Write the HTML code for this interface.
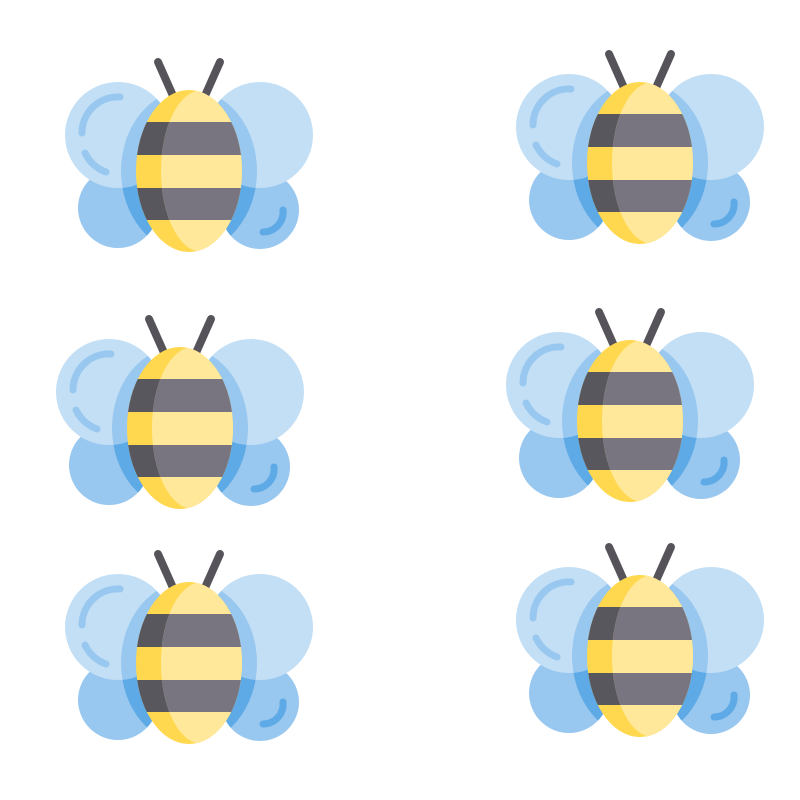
<!DOCTYPE html>
<html><head><meta charset="utf-8"><style>html,body{margin:0;background:#fff}svg{display:block}</style></head>
<body>
<svg width="800" height="800" viewBox="0 0 800 800">
<defs>
<clipPath id="bodyclip"><ellipse cx="189" cy="171" rx="53" ry="81"/></clipPath>
<clipPath id="lightclip"><ellipse cx="202" cy="171" rx="41" ry="81"/></clipPath>
<clipPath id="topwings"><circle cx="118" cy="135" r="53"/><circle cx="260" cy="135" r="53"/></clipPath>
<clipPath id="lowwings"><circle cx="118" cy="208" r="40"/><circle cx="260" cy="210" r="39"/></clipPath>
<g id="bee">
  <line x1="158" y1="62" x2="174" y2="98" stroke="#56545a" stroke-width="8" stroke-linecap="round"/>
  <line x1="220" y1="62" x2="204" y2="98" stroke="#56545a" stroke-width="8" stroke-linecap="round"/>
  <circle cx="118" cy="208" r="40" fill="#98c7ef"/>
  <circle cx="260" cy="210" r="39" fill="#98c7ef"/>
  <ellipse cx="189" cy="171" rx="68" ry="82" fill="#5eaae6" clip-path="url(#lowwings)"/>
  <circle cx="118" cy="135" r="53" fill="#c3dff5"/>
  <circle cx="260" cy="135" r="53" fill="#c3dff5"/>
  <ellipse cx="189" cy="171" rx="68" ry="82" fill="#98c7ef" clip-path="url(#topwings)"/>
  <path d="M120 97 A36 36 0 0 0 82 133" fill="none" stroke="#98c7ef" stroke-width="7" stroke-linecap="round"/>
  <path d="M85 153 A38 38 0 0 0 106 172" fill="none" stroke="#98c7ef" stroke-width="7" stroke-linecap="round"/>
  <path d="M283 210 A20 20 0 0 1 263 232" fill="none" stroke="#5eaae6" stroke-width="7" stroke-linecap="round"/>
  <g clip-path="url(#bodyclip)">
    <rect x="130" y="88" width="120" height="170" fill="#ffd84f"/>
    <rect x="130" y="122" width="120" height="33" fill="#58575d"/>
    <rect x="130" y="188" width="120" height="32" fill="#58575d"/>
    <g clip-path="url(#lightclip)">
      <rect x="130" y="88" width="120" height="170" fill="#ffe899"/>
      <rect x="130" y="122" width="120" height="33" fill="#787580"/>
      <rect x="130" y="188" width="120" height="32" fill="#787580"/>
    </g>
  </g>
</g>
</defs>
<use href="#bee"/>
<use href="#bee" transform="translate(451,-8)"/>
<use href="#bee" transform="translate(-9,257)"/>
<use href="#bee" transform="translate(441,250)"/>
<use href="#bee" transform="translate(0,492)"/>
<use href="#bee" transform="translate(451,485)"/>
</svg>
</body></html>
